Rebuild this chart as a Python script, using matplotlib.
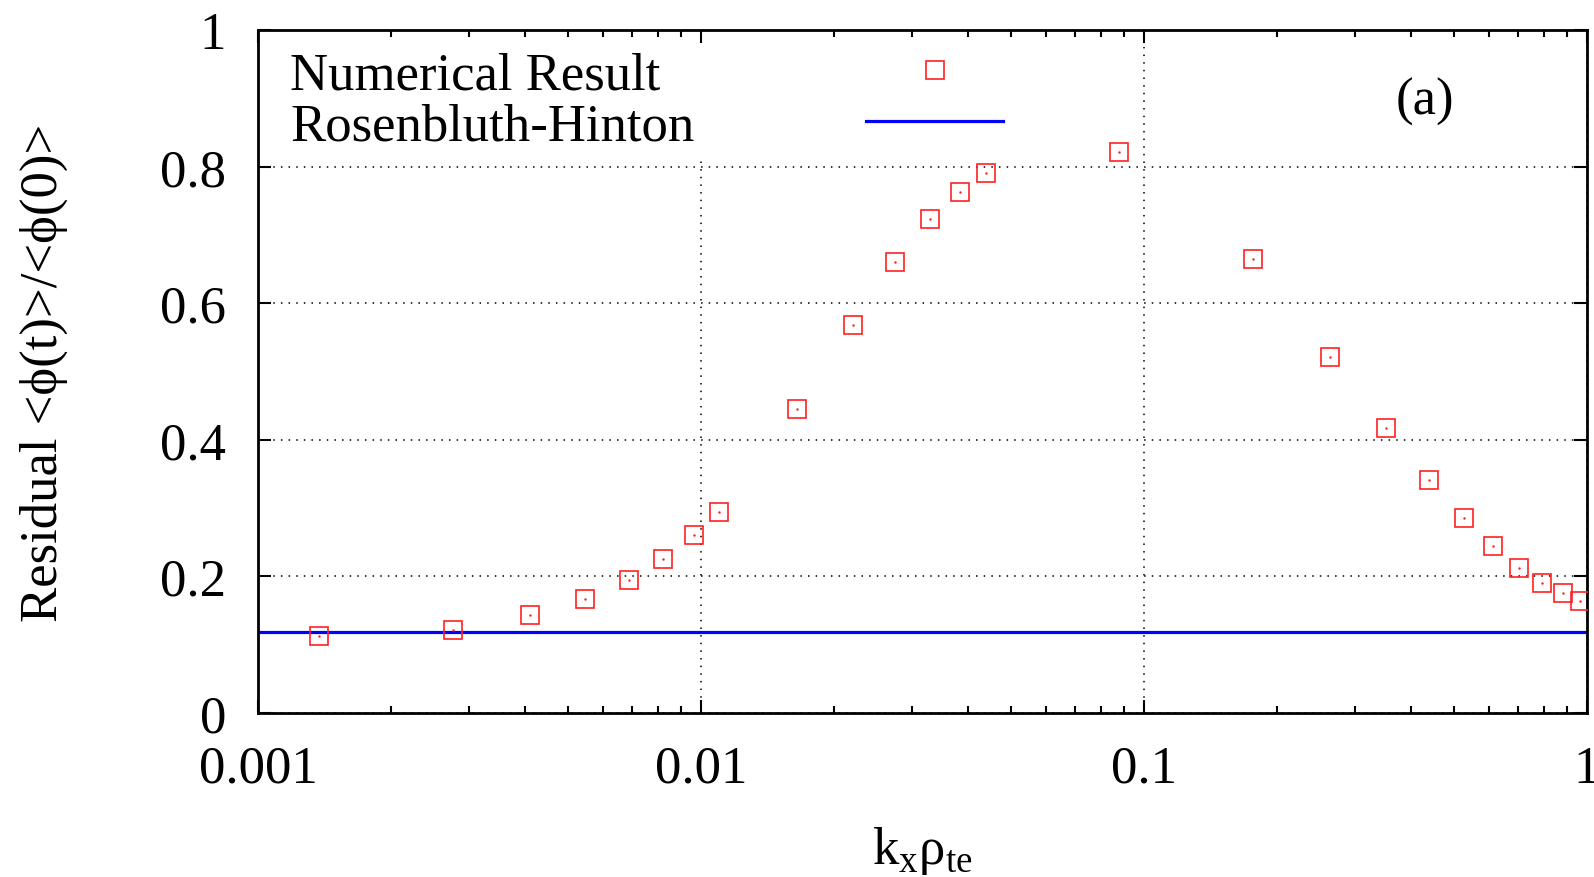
import matplotlib
matplotlib.use("Agg")
import matplotlib.pyplot as plt
from matplotlib.ticker import FixedLocator, FixedFormatter, LogLocator, NullFormatter

# data -------------------------------------------------------------------
kx_rho = [0.00137, 0.00276, 0.00412, 0.00548, 0.00687, 0.00822, 0.00964,
          0.0110, 0.0165, 0.0220, 0.0274, 0.0328, 0.0385, 0.0439, 0.0877,
          0.176, 0.263, 0.351, 0.441, 0.528, 0.615, 0.702, 0.793, 0.881,
          0.964]
residual = [0.112, 0.122, 0.143, 0.167, 0.195, 0.226, 0.260, 0.295, 0.445,
            0.568, 0.661, 0.723, 0.763, 0.790, 0.821, 0.665, 0.521, 0.417,
            0.341, 0.286, 0.244, 0.213, 0.190, 0.176, 0.164]
rh_level = 0.119

x_ticks = [0.001, 0.01, 0.1, 1]
x_labels = ["0.001", "0.01", "0.1", "1"]
y_ticks = [0, 0.2, 0.4, 0.6, 0.8, 1]
y_labels = ["0", "0.2", "0.4", "0.6", "0.8", "1"]
labels = ["Numerical Result", "Rosenbluth-Hinton"]

plt.rcParams["font.family"] = ["Liberation Serif", "DejaVu Serif"]
plt.rcParams["mathtext.fontset"] = "custom"
plt.rcParams["mathtext.rm"] = "Liberation Serif"
FS = 38

fig = plt.figure(figsize=(15.94, 8.78), dpi=100)
ax = fig.add_axes([0.1619, 0.1868, 0.9956 - 0.1619, 0.9647 - 0.1868])

pts, = ax.plot(kx_rho, residual, ls="none", marker="s", ms=13, mfc="none",
               mec="#ff2020", mew=1.2, zorder=3)
ax.plot(kx_rho, residual, ls="none", marker=".", ms=1.5, color="#ff2020", zorder=3)
rh_line = ax.axhline(rh_level, color="#0000ff", lw=2.3, zorder=2)

ax.set_xscale("log")
ax.set_xlim(0.001, 1)
ax.set_ylim(0, 1)
ax.xaxis.set_major_locator(FixedLocator(x_ticks))
ax.xaxis.set_major_formatter(FixedFormatter(x_labels))
ax.xaxis.set_minor_locator(LogLocator(base=10, subs=range(2, 10)))
ax.xaxis.set_minor_formatter(NullFormatter())
ax.yaxis.set_major_locator(FixedLocator(y_ticks))
ax.yaxis.set_major_formatter(FixedFormatter(y_labels))

ax.tick_params(which="both", direction="in", top=True, right=True,
               labelsize=FS, width=1.5)
ax.tick_params(which="major", length=9.5)
ax.tick_params(which="minor", length=5)
ax.tick_params(axis="y", pad=23)
ax.tick_params(axis="x", pad=23)
for s in ax.spines.values():
    s.set_linewidth(2)

ax.grid(True, which="major", color="black", ls=(0, (1, 4)), lw=1.1)

ax.set_xlabel(r"k$_\mathrm{x}$ρ$_\mathrm{te}$", fontsize=FS)
ax.set_ylabel("Residual <ϕ(t)>/<ϕ(0)>", fontsize=FS)
ax.xaxis.set_label_coords(0.5, -0.163)
ax.yaxis.set_label_coords(-0.143, 0.5)

ax.text(0.878, 0.896, "(a)", transform=ax.transAxes, fontsize=FS,
        ha="center", va="center")

leg = ax.legend([pts, rh_line], labels, loc="upper left",
                bbox_to_anchor=(0.0204, 1 - 0.0234), borderaxespad=0,
                markerfirst=False, handlelength=2.6, handletextpad=3.1,
                labelspacing=0.06, borderpad=0.1, fontsize=FS, frameon=True,
                fancybox=False, facecolor="white", edgecolor="none",
                framealpha=1, numpoints=1)
# gnuplot-style key: labels flush left, samples flush right
for item in leg._legend_handle_box.get_children()[0].get_children():
    item.mode = "expand"
    item.width = 713

fig.savefig("out.png", dpi=100)
